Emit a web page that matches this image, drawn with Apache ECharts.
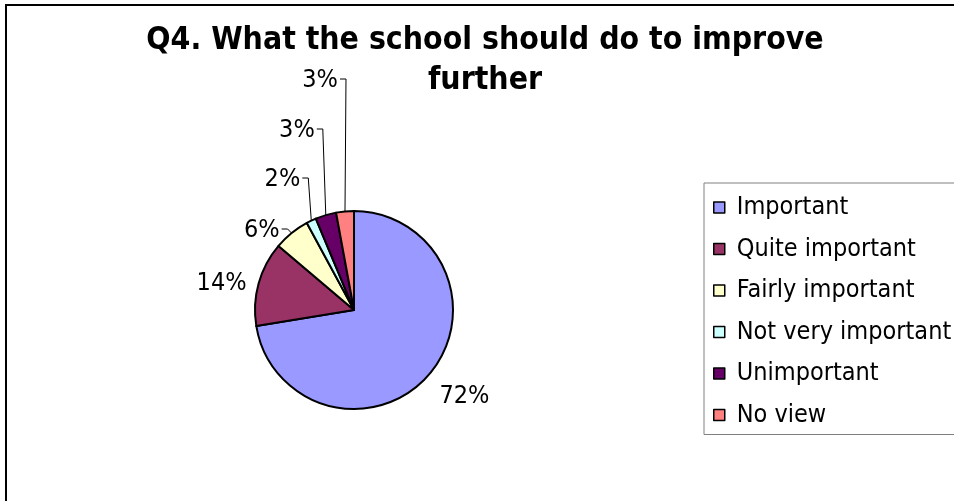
<!DOCTYPE html>
<html>
<head>
<meta charset="utf-8">
<script src="https://cdn.jsdelivr.net/npm/echarts@6/dist/echarts.min.js"></script>
<style>
html,body{margin:0;padding:0;background:#fff;}
#chart{width:954px;height:501px;}
</style>
</head>
<body>
<div id="chart"></div>
<script>
// ---- data ----
const titleText = "Q4. What the school should do to improve\nfurther";
const categories = ["Important", "Quite important", "Fairly important", "Not very important", "Unimportant", "No view"];
const values = [72.4, 13.8, 5.9, 1.6, 3.4, 2.9];
const colors = ["#9999FF", "#993366", "#FFFFCC", "#CCFFFF", "#660066", "#FF8080"];

// ---- layout constants ----
const CX = 354, CY = 310, R = 99;
const FONT = "DejaVu Sans Condensed";

const total = values.reduce((a, b) => a + b, 0);
function edgePoint(i) {
  let before = 0;
  for (let k = 0; k < i; k++) before += values[k];
  const midDeg = (before + values[i] / 2) / total * 360;
  const a = midDeg * Math.PI / 180;
  return [CX + R * Math.sin(a), CY - R * Math.cos(a)];
}
// stacked label rows for the thin slices (leader line level, x shift of the bend)
const stackRows = { 2: [229, -4], 3: [178, -3], 4: [129, -3], 5: [79, 1] };

const chart = echarts.init(document.getElementById('chart'), null, { renderer: 'canvas' });
chart.setOption({
  backgroundColor: '#ffffff',
  animation: false,
  title: {
    text: titleText,
    left: 485,
    top: 21,
    padding: 0,
    textAlign: 'center',
    textStyle: { fontFamily: FONT, fontWeight: 'bold', fontSize: 31.7, lineHeight: 40, color: '#000' }
  },
  graphic: [{
    type: 'rect', silent: true, z: -1,
    shape: { x: 6, y: 5, width: 1000, height: 600 },
    style: { fill: 'none', stroke: '#000', lineWidth: 2 }
  }],
  legend: {
    orient: 'vertical',
    left: 704,
    top: 183,
    padding: [12, 60, 7, 9],
    itemGap: 16.5,
    itemWidth: 11,
    itemHeight: 11,
    icon: 'rect',
    borderColor: '#808080',
    borderWidth: 1,
    itemStyle: { borderColor: '#000', borderWidth: 1.5 },
    textStyle: { fontFamily: FONT, fontSize: 25, lineHeight: 25, color: '#000', padding: [0, 0, 0, 7] },
    data: categories
  },
  series: [{
    type: 'pie',
    center: [CX, CY],
    radius: R,
    startAngle: 90,
    clockwise: true,
    avoidLabelOverlap: false,
    itemStyle: { borderColor: '#000', borderWidth: 2 },
    label: {
      show: true,
      position: 'outside',
      fontFamily: FONT,
      fontSize: 25,
      color: '#000',
      formatter: p => Math.round(p.percent) + '%'
    },
    labelLine: { show: true, length: 5, length2: 5, lineStyle: { color: '#000', width: 1 } },
    labelLayout: function (p) {
      const i = p.dataIndex;
      const e = edgePoint(i);
      if (i === 0) return { x: e[0] + 10, y: e[1] + 22, align: 'left', verticalAlign: 'middle' };
      if (i === 1) return { x: e[0] - 12, y: e[1], align: 'right', verticalAlign: 'middle' };
      const row = stackRows[i];
      const bx = e[0] + row[1], by = row[0];
      const endX = bx - 6;
      return {
        x: endX - 2, y: by + 1, align: 'right', verticalAlign: 'middle',
        labelLinePoints: [[e[0], e[1]], [bx, by], [endX, by]]
      };
    },
    data: categories.map((c, i) => ({
      name: c,
      value: values[i],
      itemStyle: { color: colors[i] },
      labelLine: { show: i > 1 }
    }))
  }]
});
</script>
</body>
</html>
